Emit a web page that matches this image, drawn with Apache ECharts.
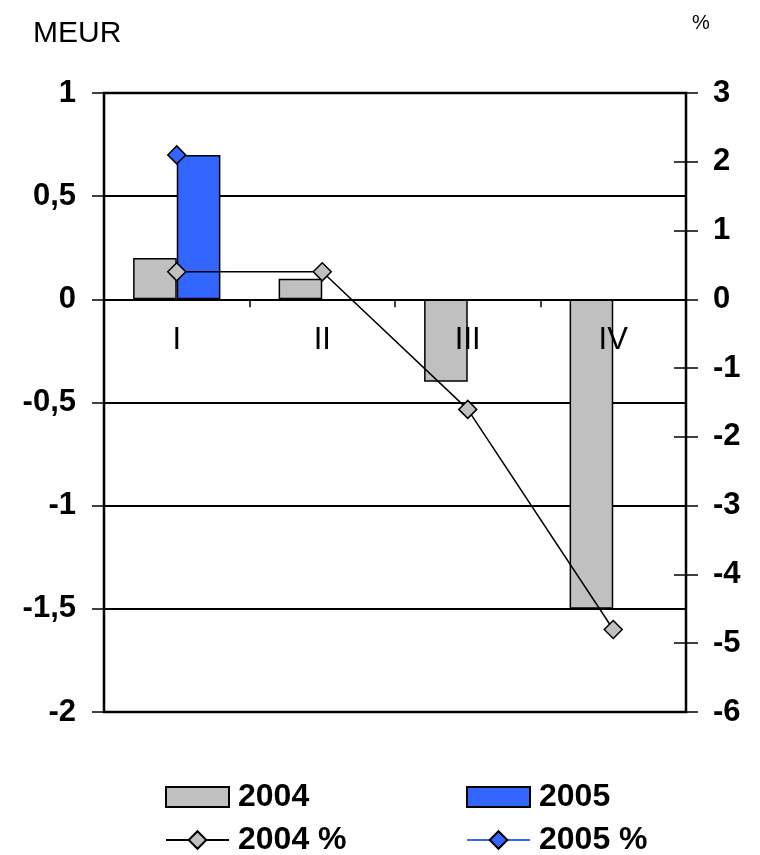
<!DOCTYPE html>
<html>
<head>
<meta charset="utf-8">
<script src="https://cdn.jsdelivr.net/npm/echarts@6/dist/echarts.min.js"></script>
<style>
  html, body { margin: 0; padding: 0; background: #fff; }
  #chart { width: 760px; height: 855px; }
</style>
</head>
<body>
<div id="chart"></div>
<script>
// Quarterly result (MEUR, left axis) and change (%, right axis)
const quarters = ['I', 'II', 'III', 'IV'];
const meur2004 = [0.2, 0.1, -0.4, -1.5];
const meur2005 = [0.7, null, null, null];
const pct2004 = [0.4, 0.4, -1.6, -4.8];
const pct2005 = [2.1, null, null, null];
const leftTicks = { min: -2, max: 1, step: 0.5 };
const rightTicks = { min: -6, max: 3, step: 1 };
const names = ['2004', '2005', '2004 %', '2005 %'];

const FONT = "'Liberation Sans', Arial, sans-serif";
const GRAY = '#C0C0C0';
const BLUE = '#3366FF';

const W = 760, H = 855;
const GRID = { left: 104, right: 74, top: 93, bottom: 143 };
// the category axis sits on the zero line of the MEUR scale
const plotH = H - GRID.top - GRID.bottom;
const zeroOffset = -plotH * (0 - leftTicks.min) / (leftTicks.max - leftTicks.min);

const chart = echarts.init(document.getElementById('chart'), null, { renderer: 'canvas', width: W, height: H });

const legendText = {
  fontFamily: FONT, fontSize: 32, fontWeight: 'bold', color: '#000',
  padding: [0, 0, 0, 4]
};
function legendAt(name, left, top, h, icon) {
  const l = {
    data: [name], left: left, top: top, padding: 0,
    itemWidth: 63, itemHeight: h,
    textStyle: legendText, selectedMode: false
  };
  if (icon) l.icon = icon;
  return l;
}

const option = {
  animation: false,
  backgroundColor: '#fff',
  title: [
    { text: 'MEUR', left: 33, top: 19, padding: 0,
      textStyle: { fontFamily: FONT, fontSize: 30, fontWeight: 'normal', color: '#000' } },
    { text: '%', left: 692, top: 13, padding: 0,
      textStyle: { fontFamily: FONT, fontSize: 20, fontWeight: 'normal', color: '#000' } }
  ],
  legend: [
    legendAt(names[0], 165, 781, 20, 'rect'),
    legendAt(names[1], 466, 781, 20, 'rect'),
    legendAt(names[2], 165, 824, 22),
    legendAt(names[3], 466, 824, 22)
  ],
  grid: Object.assign({
    show: true, borderColor: '#000', borderWidth: 2.5, backgroundColor: 'transparent'
  }, GRID),
  xAxis: {
    type: 'category',
    data: quarters,
    position: 'bottom',
    offset: zeroOffset,
    z: 5,
    axisLine: { onZero: false, lineStyle: { color: '#000', width: 2 } },
    axisTick: { show: true, length: 8, lineStyle: { color: '#000', width: 1.5 } },
    axisLabel: { interval: 0, margin: 26, fontFamily: FONT, fontSize: 31, color: '#000' },
    splitLine: { show: false }
  },
  yAxis: [
    {
      type: 'value', position: 'left',
      min: leftTicks.min, max: leftTicks.max, interval: leftTicks.step,
      axisLine: { show: true, lineStyle: { color: '#000', width: 2 } },
      axisTick: { show: true, length: 12, lineStyle: { color: '#000', width: 1.5 } },
      axisLabel: {
        margin: 28, fontFamily: FONT, fontSize: 31, fontWeight: 'bold', color: '#000',
        padding: [6, 0, 0, 0],
        formatter: v => String(v).replace('.', ',')
      },
      splitLine: { show: true, lineStyle: { color: '#000', width: 2 } }
    },
    {
      type: 'value', position: 'right',
      min: rightTicks.min, max: rightTicks.max, interval: rightTicks.step,
      axisLine: { show: true, lineStyle: { color: '#000', width: 2 } },
      axisTick: { show: true, length: 12, lineStyle: { color: '#000', width: 1.5 } },
      axisLabel: {
        margin: 27, fontFamily: FONT, fontSize: 31, fontWeight: 'bold', color: '#000',
        padding: [6, 0, 0, 0]
      },
      splitLine: { show: false }
    },
    {
      // inner half of the right-hand tick marks
      type: 'value', position: 'right',
      min: rightTicks.min, max: rightTicks.max, interval: rightTicks.step,
      axisLine: { show: false },
      axisTick: { show: true, inside: true, length: 12, lineStyle: { color: '#000', width: 1.5 } },
      axisLabel: { show: false },
      splitLine: { show: false }
    }
  ],
  series: [
    {
      name: names[0], type: 'bar', yAxisIndex: 0, data: meur2004,
      barWidth: '30%', barGap: '0%',
      itemStyle: { color: GRAY, borderColor: '#000', borderWidth: 1.5 }
    },
    {
      name: names[1], type: 'bar', yAxisIndex: 0, data: meur2005,
      barWidth: '30%', barGap: '0%',
      itemStyle: { color: BLUE, borderColor: '#000', borderWidth: 1.5 }
    },
    {
      name: names[2], type: 'line', yAxisIndex: 1, data: pct2004,
      symbol: 'diamond', symbolSize: 18, z: 4,
      lineStyle: { color: '#000', width: 1.5 },
      itemStyle: { color: GRAY, borderColor: '#000', borderWidth: 1.5 }
    },
    {
      name: names[3], type: 'line', yAxisIndex: 1, data: pct2005,
      symbol: 'diamond', symbolSize: 18, z: 4,
      lineStyle: { color: BLUE, width: 1.5 },
      itemStyle: { color: BLUE, borderColor: '#000', borderWidth: 1.5 }
    }
  ]
};

chart.setOption(option);
</script>
</body>
</html>
